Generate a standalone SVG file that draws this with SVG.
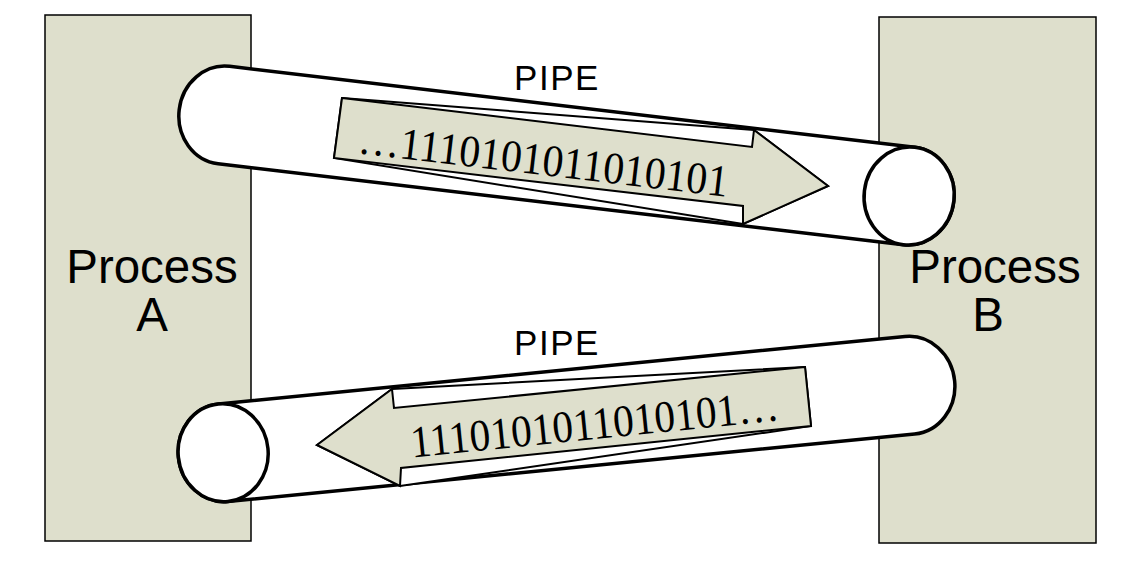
<svg xmlns="http://www.w3.org/2000/svg" width="1129" height="561" viewBox="0 0 1129 561">
<style>
.proc{fill:#dedfcc;stroke:#000;stroke-width:1.5}
.pipe{fill:#fff;stroke:#000;stroke-width:3.5}
.aout{fill:#fff;stroke:#000;stroke-width:2;stroke-linejoin:miter}
.ain{fill:#dedfcc;stroke:#000;stroke-width:2;stroke-linejoin:miter}
.lbl{font-family:"Liberation Sans",Arial,sans-serif;fill:#000}
.bits{font-family:"Liberation Serif","Times New Roman",serif;font-size:45px;fill:#000}
</style>
<rect width="1129" height="561" fill="#fff"/>
<g id="processA">
<rect class="proc" x="45" y="15" width="206" height="526"/>
</g>
<g id="processB">
<rect class="proc" x="879" y="17" width="217" height="526"/>
</g>
<g id="connectors">
<g id="pipe-top" transform="translate(566.5,155.5) rotate(6.74)">
<path class="pipe" d="M-345,-49 L345,-49 A45 49 0 0 1 345,49 L-345,49 A45 49 0 0 1 -345,-49 Z"/>
<ellipse class="pipe" cx="345" cy="0" rx="45" ry="49"/>
</g>
<g id="pipe-bottom" transform="translate(566.5,419) rotate(-5.61)">
<path class="pipe" d="M-345,-49 L345,-49 A45 49 0 0 1 345,49 L-345,49 A45 49 0 0 1 -345,-49 Z"/>
<ellipse class="pipe" cx="-345" cy="0" rx="45" ry="49"/>
</g>
<g id="arrow-top">
<polygon class="aout" points="342,98 754,130 828,186 743,224 334,158"/>
<polygon class="ain" points="342,98 752,147 754,130 828,186 743,224 743,206 334,158"/>
<text class="bits" x="357" y="153" transform="rotate(6.75 357 153)" textLength="372" lengthAdjust="spacingAndGlyphs">…1110101011010101</text>
</g>
<g id="arrow-bottom">
<polygon class="aout" points="805,367 392,389 317,445 400,486 811,426"/>
<polygon class="ain" points="805,367 394,408 392,389 317,445 400,486 401,468 811,426"/>
<text class="bits" x="412" y="457.5" transform="rotate(-5.8 412 457.5)" textLength="370" lengthAdjust="spacingAndGlyphs">1110101011010101…</text>
</g>
<text class="lbl" x="557" y="90" font-size="35" letter-spacing="1.5" text-anchor="middle">PIPE</text>
<text class="lbl" x="557" y="355" font-size="35" letter-spacing="1.5" text-anchor="middle">PIPE</text>
</g>
<g id="labelA">
<text class="lbl" font-size="47.5" text-anchor="middle"><tspan x="152" y="283">Process</tspan><tspan x="152" y="331">A</tspan></text>
</g>
<g id="labelB">
<text class="lbl" font-size="47.5" text-anchor="middle"><tspan x="995" y="283">Process</tspan><tspan x="988" y="331">B</tspan></text>
</g>
</svg>
